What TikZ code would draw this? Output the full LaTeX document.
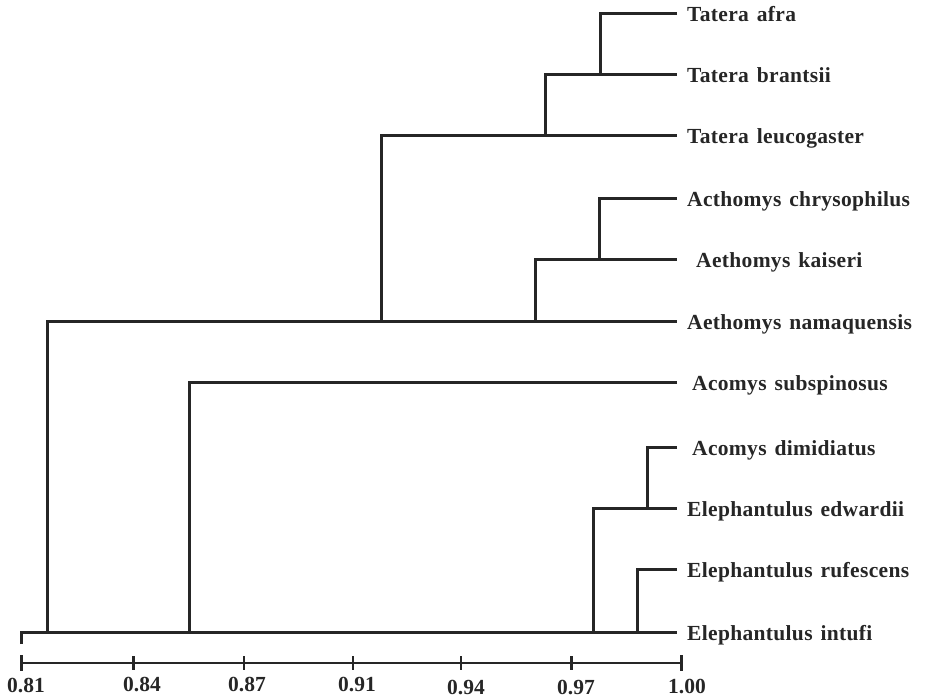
\documentclass[tikz,border=0pt]{standalone}
\usepackage{fontspec}
\setmainfont{Liberation Serif}
\newfontfamily\labfont[LetterSpace=1.5,WordSpace=1.4]{Liberation Serif Bold}
\newfontfamily\numfont{Liberation Serif Bold}
\begin{document}
\begin{tikzpicture}[x=1pt,y=-1pt,
  branch/.style={line width=3pt,line join=miter,color=black!85},
  leaf/.style={anchor=west,inner ysep=0pt,inner xsep=0pt,text height=16pt,text depth=0pt,
     font=\labfont\fontsize{21.5pt}{23pt}\selectfont,text=black!85},
  axisline/.style={line width=2.6pt,color=black!85},
  ticklab/.style={font=\numfont\fontsize{21.5pt}{23pt}\selectfont,text=black!85,inner sep=0pt,anchor=base}]
\useasboundingbox (0,0) rectangle (927,698);
% leaves (west anchor = end of branch line)
\node[leaf] (afra)  at (677,14)  {\hspace{10pt}Tatera afra};
\node[leaf] (brant) at (677,75)  {\hspace{10pt}Tatera brantsii};
\node[leaf] (leuco) at (677,136) {\hspace{10pt}Tatera leucogaster};
\node[leaf] (chrys) at (677,199) {\hspace{10pt}Acthomys chrysophilus};
\node[leaf] (kais)  at (677,259) {\hspace{19pt}Aethomys kaiseri};
\node[leaf] (nama)  at (677,321) {\hspace{10pt}Aethomys namaquensis};
\node[leaf] (subsp) at (677,382) {\hspace{15pt}Acomys subspinosus};
\node[leaf] (dimid) at (677,447) {\hspace{15pt}Acomys dimidiatus};
\node[leaf] (edw)   at (677,508) {\hspace{10pt}Elephantulus edwardii};
\node[leaf] (rufes) at (677,569) {\hspace{10pt}Elephantulus rufescens};
\node[leaf] (intu)  at (677,632) {\hspace{10pt}Elephantulus intufi};
% internal nodes
\coordinate (nT1) at (600,75);
\coordinate (nT2) at (545,136);
\coordinate (nA1) at (599,259);
\coordinate (nA2) at (535,321);
\coordinate (nTA) at (381,321);
\coordinate (nR)  at (47,632);
\coordinate (nS)  at (189,632);
\coordinate (nE1) at (647,508);
\coordinate (nE2) at (637,632);
\coordinate (nE3) at (593,632);
\coordinate (base) at (21,632);
\coordinate (basetick) at (21,644);
% branches
\draw[branch] (afra.west) -| (nT1) -- (brant.west);
\draw[branch] (nT1) -| (nT2) -- (leuco.west);
\draw[branch] (chrys.west) -| (nA1) -- (kais.west);
\draw[branch] (nA1) -| (nA2) -- (nama.west);
\draw[branch] (nT2) -| (nTA) -- (nA2);
\draw[branch] (nTA) -| (nR);
\draw[branch] (subsp.west) -| (nS);
\draw[branch] (dimid.west) -| (nE1) -- (edw.west);
\draw[branch] (nE1) -| (nE3);
\draw[branch] (rufes.west) -| (nE2) -- (intu.west);
\draw[branch] (basetick) -- (base) -- (nR) -- (nS) -- (nE3) -- (nE2);
% axis
\coordinate (ax0) at (21.6,663);
\coordinate (ax1) at (681.7,663);
\draw[axisline] (ax0) -- (ax1);
\draw[axisline] (21.6,655) -- (21.6,671);
\draw[axisline] (681.7,655) -- (681.7,671);
\foreach \x in {133.6,244.1,352.8,461.1,571.6}
  \draw[axisline] (\x,656) -- (\x,670);
\node[ticklab] (l1) at (26,692) {0.81};
\node[ticklab] (l2) at (142,691) {0.84};
\node[ticklab] (l3) at (247,691) {0.87};
\node[ticklab] (l4) at (357,691) {0.91};
\node[ticklab] (l5) at (466,694) {0.94};
\node[ticklab] (l6) at (576,694) {0.97};
\node[ticklab] (l7) at (687,693) {1.00};
\end{tikzpicture}
\end{document}
